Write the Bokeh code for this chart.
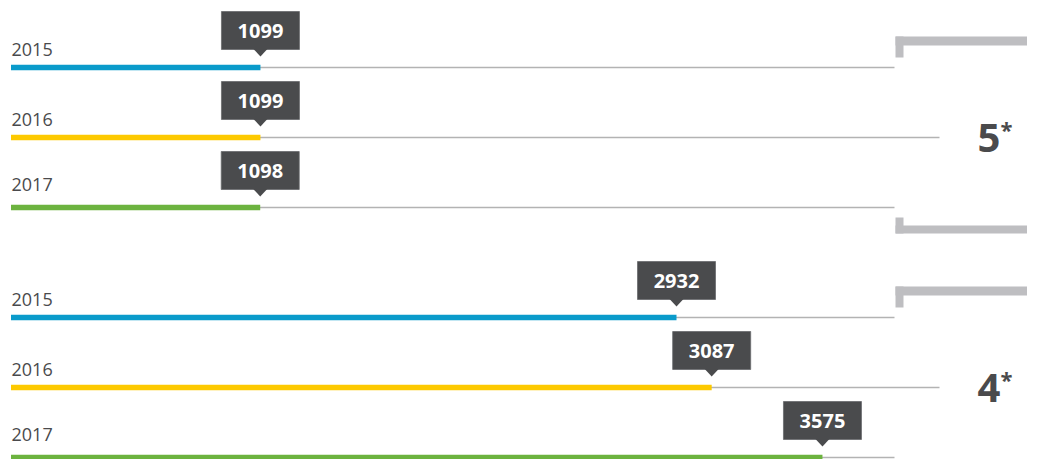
from bokeh.plotting import figure
from bokeh.models import Range1d, ColumnDataSource
from bokeh.core.properties import value
from bokeh.embed import file_html
from bokeh.resources import INLINE

# ---- data ----
years = ["2015", "2016", "2017"]
groups = ["5", "4"]
values_5 = [1099, 1099, 1098]
values_4 = [2932, 3087, 3575]
year_colors = ["#0a9bcb", "#fdc900", "#6cb33f"]

# ---- layout (picture pixel helpers) ----
W, H = 1027, 459
K = 0.22698          # px per unit
X0 = 10.5            # picture x of value 0
def px2x(px):
    return (px - X0) / K

ROW_TOP = 67
ROW_STEP = 70
GROUP_STEP = 250
label_off = [18, 18, 23]

rows_y, rows_v, rows_c, rows_year, rows_lab_y, rows_line_end = [], [], [], [], [], []
for g, vals in enumerate([values_5, values_4]):
    for i, v in enumerate(vals):
        y = ROW_TOP + g * GROUP_STEP + i * ROW_STEP
        rows_y.append(y)
        rows_v.append(v)
        rows_c.append(year_colors[i])
        rows_year.append(years[i])
        rows_lab_y.append(y - label_off[i])
        rows_line_end.append(px2x(939) if i == 1 else px2x(894))

src = ColumnDataSource(dict(
    y=rows_y, v=rows_v, c=rows_c, year=rows_year, lab_y=rows_lab_y,
    line_end=rows_line_end, zero=[0] * len(rows_y),
    box_y=[y - 37 for y in rows_y], txt=[str(v) for v in rows_v],
))

p = figure(width=W, height=H, output_backend="svg", toolbar_location=None,
           x_range=Range1d(px2x(0), px2x(W)), y_range=Range1d(H, 0),
           x_axis_type=None, y_axis_type=None, min_border=0,
           outline_line_color=None, background_fill_color="white",
           border_fill_color="white")
p.grid.visible = False

# grey base lines
p.segment(x0="zero", x1="line_end", y0="y", y1="y", source=src,
          line_color="#b3b3b3", line_width=1.6)
# bars
p.hbar(y="y", left="zero", right="v", height=5.5, source=src,
       fill_color="c", line_color=None)

# year labels
p.text(x=px2x(11), y="lab_y", text="year", source=src,
       text_font=value("Open Sans"), text_font_size="18px",
       text_color="#4a4a4c", text_baseline="alphabetic", text_align="left")

# value callouts
p.rect(x="v", y="box_y", width=78, height=38, width_units="screen",
       source=src, fill_color="#4a4b4d", line_color="#6a6b6d", line_width=0.8)
tri_xs, tri_ys = [], []
for v, y in zip(rows_v, rows_y):
    tri_xs.append([v - 7 / K, v + 7 / K, v])
    tri_ys.append([y - 18.5, y - 18.5, y - 11])
p.patches(xs=tri_xs, ys=tri_ys, fill_color="#4a4b4d", line_color=None)
p.text(x="v", y="box_y", text="txt", source=src,
       text_font=value("Open Sans"), text_font_style="bold",
       text_font_size="20px", text_color="white",
       text_align="center", text_baseline="middle")

# brackets and group labels
bx0, bx1, bx2 = px2x(895), px2x(903), px2x(1043)
for g, lab in enumerate(groups):
    off = g * GROUP_STEP
    # top bracket
    p.quad(left=[bx0, bx0], right=[bx2, bx1],
           top=[36 + off, 36 + off], bottom=[45 + off, 57 + off],
           fill_color="#bebec1", line_color=None)
    # bottom bracket
    p.quad(left=[bx0, bx0], right=[bx1, bx2],
           top=[217 + off, 225 + off], bottom=[233 + off, 233 + off],
           fill_color="#bebec1", line_color=None)
    mid = ROW_TOP + off + ROW_STEP
    p.text(x=[px2x(977)], y=[mid], text=[lab],
           text_font=value("Open Sans"), text_font_style="bold",
           text_font_size="40px", text_color="#4a4a4c",
           text_baseline="alphabetic", text_align="left")
    p.text(x=[px2x(1000)], y=[mid - 24], text=["*"],
           text_font=value("Open Sans"), text_font_style="bold",
           text_font_size="22px", text_color="#4a4a4c",
           text_baseline="top", text_align="left")

open("out.html", "w").write(file_html(p, INLINE))
